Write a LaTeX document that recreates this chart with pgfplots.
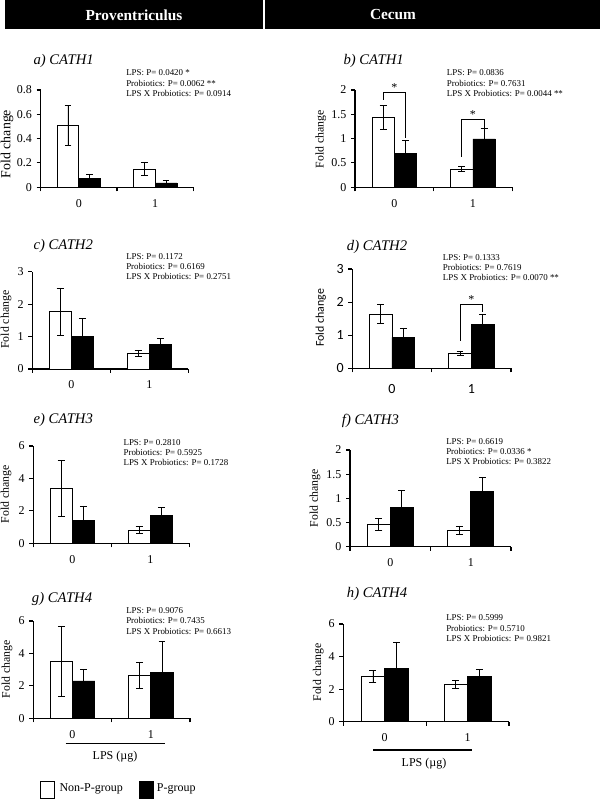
\documentclass[border=0pt]{standalone}
\usepackage{pgfplots}
\pgfplotsset{compat=1.18}
\usepackage{fontspec}
\setmainfont{Liberation Serif}
\newfontfamily\calibri{Carlito}

\pgfplotsset{
 panel/.style={
  scale only axis, anchor=south west, ybar=0pt, bar width=0.285,
  xmin=0, xmax=2, ymin=0, enlargelimits=false, clip=false,
  axis lines*=left, axis line style={line width=0.8pt},
  tick align=outside, major tick length=3pt, tick style={black,line width=0.8pt},
  xtick={0,1,2}, xticklabels={,,},
  extra x ticks={0.5,1.5}, extra x tick labels={0,1},
  extra x tick style={major tick length=0pt, xticklabel style={anchor=center, yshift=-12pt}},
  tick label style={font=\fontsize{9}{9}\selectfont},
  /pgf/number format/assume math mode=true,
  yticklabel style={/pgf/number format/fixed},
 },
 wbar/.style={draw=black, fill=white, line width=0.6pt, error bars/.cd, y dir=both, y explicit, error bar style={line width=0.6pt, black}, error mark options={rotate=90, black, mark size=2.6pt, line width=0.6pt}},
 bbar/.style={draw=black, fill=black, line width=0.6pt, error bars/.cd, y dir=both, y explicit, error bar style={line width=0.6pt, black}, error mark options={rotate=90, black, mark size=2.6pt, line width=0.6pt}},
}

\begin{document}
\begin{tikzpicture}
\useasboundingbox (0,0) rectangle (450pt,599.25pt);

% a
\begin{axis}[panel, at={(30.53pt,458.78pt)}, width=114.45pt, height=72.98pt, ymax=0.8, ytick={0,0.2,0.4,0.6,0.8}]
\addplot[wbar] coordinates {(0.5,0.507) +- (0,0.165) (1.5,0.151) +- (0,0.055)};
\addplot[bbar] coordinates {(0.5,0.074) +- (0,0.033) (1.5,0.036) +- (0,0.022)};
\end{axis}

% b
\begin{axis}[panel, at={(266.25pt,458.78pt)}, width=117.98pt, height=72.98pt, ymax=2, ytick={0,0.5,1,1.5,2}]
\addplot[wbar] coordinates {(0.5,1.438) +- (0,0.245) (1.5,0.377) +- (0,0.045)};
\addplot[bbar] coordinates {(0.5,0.692) +- (0,0.267) (1.5,0.993) +- (0,0.219)};
\draw[line width=0.75pt] (axis cs:0.3575,1.795) -- (axis cs:0.3575,1.945) -- (axis cs:0.6425,1.945) -- (axis cs:0.6425,1.007);
\node[anchor=south, inner sep=1pt, font=\fontsize{9}{9}\selectfont] at (axis cs:0.5,1.945) {*};
\draw[line width=0.75pt] (axis cs:1.3575,0.63) -- (axis cs:1.3575,1.384) -- (axis cs:1.6425,1.384) -- (axis cs:1.6425,1.212);
\node[anchor=south, inner sep=1pt, font=\fontsize{9}{9}\selectfont] at (axis cs:1.5,1.384) {*};
\end{axis}

% c
\begin{axis}[panel, at={(24.23pt,322.5pt)}, width=117pt, height=72.98pt, ymax=3, ytick={0,1,2,3}]
\addplot[wbar] coordinates {(0.5,1.767) +- (0,0.73) (1.5,0.473) +- (0,0.1)};
\addplot[bbar] coordinates {(0.5,0.997) +- (0,0.554) (1.5,0.75) +- (0,0.195)};
\end{axis}

% d
\begin{axis}[panel, at={(264.23pt,323.03pt)}, width=119.03pt, height=74.48pt, ymax=3, ytick={0,1,2,3},
  tick label style={font=\calibri\fontsize{10.5}{10.5}\selectfont},
  extra x tick style={xticklabel style={yshift=-3.5pt}}]
\addplot[wbar] coordinates {(0.5,1.641) +- (0,0.292) (1.5,0.443) +- (0,0.06)};
\addplot[bbar] coordinates {(0.5,0.936) +- (0,0.282) (1.5,1.319) +- (0,0.322)};
\draw[line width=0.75pt] (axis cs:1.3575,0.826) -- (axis cs:1.3575,1.913) -- (axis cs:1.6425,1.913) -- (axis cs:1.6425,1.711);
\node[anchor=south, inner sep=1pt, font=\fontsize{9}{9}\selectfont] at (axis cs:1.5,1.913) {*};
\end{axis}

% e
\begin{axis}[panel, at={(24.98pt,191.78pt)}, width=117pt, height=72.98pt, ymax=6, ytick={0,2,4,6}]
\addplot[wbar] coordinates {(0.5,3.37) +- (0,1.72) (1.5,0.822) +- (0,0.205)};
\addplot[bbar] coordinates {(0.5,1.397) +- (0,0.904) (1.5,1.705) +- (0,0.514)};
\end{axis}

% f
\begin{axis}[panel, at={(262.5pt,189.23pt)}, width=120.75pt, height=72.53pt, ymax=2, ytick={0,0.5,1,1.5,2}]
\addplot[wbar] coordinates {(0.5,0.462) +- (0,0.122) (1.5,0.345) +- (0,0.083)};
\addplot[bbar] coordinates {(0.5,0.807) +- (0,0.359) (1.5,1.138) +- (0,0.303)};
\end{axis}

% g
\begin{axis}[panel, at={(24.98pt,60.53pt)}, width=117.53pt, height=72.98pt, ymax=6, ytick={0,2,4,6}]
\addplot[wbar] coordinates {(0.5,3.493) +- (0,2.17) (1.5,2.63) +- (0,0.81)};
\addplot[bbar] coordinates {(0.5,2.301) +- (0,0.70) (1.5,2.815) +- (0,1.91)};
\end{axis}

% h
\begin{axis}[panel, at={(257.48pt,57.98pt)}, width=124.28pt, height=73.28pt, ymax=6, ytick={0,2,4,6}]
\addplot[wbar] coordinates {(0.5,2.765) +- (0,0.37) (1.5,2.273) +- (0,0.25)};
\addplot[bbar] coordinates {(0.5,3.256) +- (0,1.64) (1.5,2.785) +- (0,0.43)};
\end{axis}

\begin{scope}[x=0.75pt, y=-0.75pt, shift={(0pt,599.25pt)}]
% header
\fill[black] (5,0) rectangle (263,29.3);
\fill[black] (264.6,0) rectangle (600,29.3);
\node[text=white, font=\bfseries\fontsize{11.5}{12}\selectfont] at (134,15) {Proventriculus};
\node[text=white, font=\bfseries\fontsize{11.5}{12}\selectfont] at (393,15) {Cecum};

% titles
\begin{scope}[every node/.style={anchor=west, inner sep=0pt, font=\itshape\fontsize{11}{12}\selectfont}]
\node at (33.3,60.7) {a) CATH1};
\node at (343.3,61.3) {b) CATH1};
\node at (33.3,245.7) {c) CATH2};
\node at (346.7,246.7) {d) CATH2};
\node at (33.3,420) {e) CATH3};
\node at (341.7,420.7) {f) CATH3};
\node at (31.7,599) {g) CATH4};
\node at (346.7,594.3) {h) CATH4};
\end{scope}

% stats
\begin{scope}[every node/.style={anchor=west, align=left, inner sep=0pt, font=\fontsize{6.7}{7.7}\selectfont}]
\node at (126,83.3) {LPS: P= 0.0420 *\\Probiotics: P= 0.0062 **\\LPS X Probiotics: P= 0.0914};
\node at (446.7,83.3) {LPS: P= 0.0836\\Probiotics: P= 0.7631\\LPS X Probiotics: P= 0.0044 **};
\node at (126,266.7) {LPS: P= 0.1172\\Probiotics: P= 0.6169\\LPS X Probiotics: P= 0.2751};
\node at (442.7,267.7) {LPS: P= 0.1333\\Probiotics: P= 0.7619\\LPS X Probiotics: P= 0.0070 **};
\node at (123.3,452.7) {LPS: P= 0.2810\\Probiotics: P= 0.5925\\LPS X Probiotics: P= 0.1728};
\node at (446,451.7) {LPS: P= 0.6619\\Probiotics: P= 0.0336 *\\LPS X Probiotics: P= 0.3822};
\node at (126,621) {LPS: P= 0.9076\\Probiotics: P= 0.7435\\LPS X Probiotics: P= 0.6613};
\node at (446,628.3) {LPS: P= 0.5999\\Probiotics: P= 0.5710\\LPS X Probiotics: P= 0.9821};
\end{scope}

% y labels
\node[rotate=90, anchor=north, inner sep=0pt, font=\fontsize{10.4}{11}\selectfont] at (0.5,144) {Fold change};
\node[rotate=90, inner sep=0pt, font=\fontsize{8.85}{10}\selectfont] at (320.7,139.2) {Fold change};
\node[rotate=90, anchor=north, inner sep=0pt, font=\fontsize{8.85}{10}\selectfont] at (0.5,319.7) {Fold change};
\node[rotate=90, inner sep=0pt, font=\calibri\fontsize{8.9}{10}\selectfont] at (320.7,317.8) {Fold change};
\node[rotate=90, anchor=north, inner sep=0pt, font=\fontsize{8.85}{10}\selectfont] at (0.5,494.3) {Fold change};
\node[rotate=90, inner sep=0pt, font=\fontsize{8.85}{10}\selectfont] at (315,498.3) {Fold change};
\node[rotate=90, anchor=north, inner sep=0pt, font=\fontsize{8.85}{10}\selectfont] at (1.5,669.2) {Fold change};
\node[rotate=90, inner sep=0pt, font=\fontsize{8.85}{10}\selectfont] at (318.3,672.5) {Fold change};

% LPS axis labels
\draw[line width=1pt] (65.7,743.3) -- (165,743.3);
\node[font=\fontsize{9}{10}\selectfont] at (115,756.7) {LPS (µg)};
\draw[line width=1pt] (373.3,750) -- (472.3,750);
\node[font=\fontsize{9}{10}\selectfont] at (424,763.3) {LPS (µg)};

% legend
\draw[line width=0.7pt, fill=white] (40.7,781.7) rectangle (54.3,798.3);
\node[anchor=west, inner sep=0pt, font=\fontsize{9}{10}\selectfont] at (59.3,789.3) {Non-P-group};
\draw[line width=0.7pt, fill=black] (139.3,781.7) rectangle (153.3,798.3);
\node[anchor=west, inner sep=0pt, font=\fontsize{9}{10}\selectfont] at (156.7,789.3) {P-group};
\end{scope}
\end{tikzpicture}
\end{document}
